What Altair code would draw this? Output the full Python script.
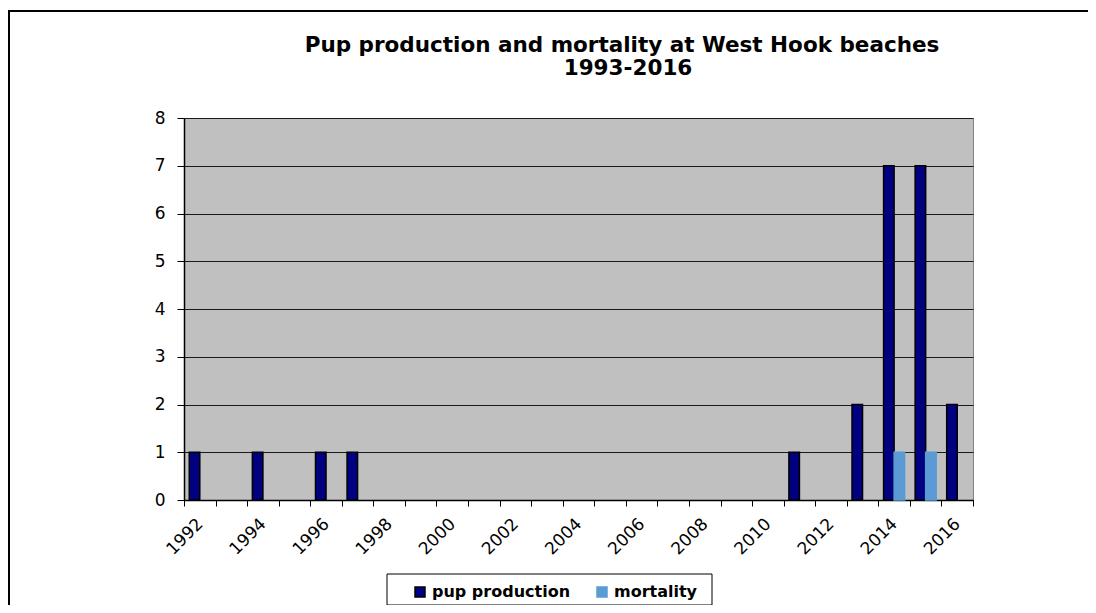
import altair as alt
import pandas as pd

years = list(range(1992, 2017))
series = ["pup production", "mortality"]
pup_years = [1992, 1994, 1996, 1997, 2011, 2013, 2014, 2015, 2016]
pup_values = [1, 1, 1, 1, 1, 2, 7, 7, 2]
mort_years = [2014, 2015]
mort_values = [1, 1]
y_ticks = [0, 1, 2, 3, 4, 5, 6, 7, 8]
title_line1 = "Pup production and mortality at West Hook beaches"
title_line2 = "1993-2016"

rows = []
for yr, v in zip(pup_years, pup_values):
    rows.append({"year": yr, "series": series[0], "value": v})
for yr, v in zip(mort_years, mort_values):
    rows.append({"year": yr, "series": series[1], "value": v})
df = pd.DataFrame(rows)

PW, PH = 789, 382
L, T = 176, 110
TW, TH = 1080, 597

legend_kw = dict(
    title=None, orient="none", legendX=228, legendY=466, direction="horizontal",
    padding=0, columnPadding=23, labelOffset=4,
    symbolType="square", symbolSize=100, symbolStrokeWidth=1.5,
    labelFont="DejaVu Sans", labelFontSize=16, labelFontWeight="bold",
    labelColor="black",
)

bars = alt.Chart(df).mark_bar(strokeWidth=1.5).encode(
    x=alt.X("year:O",
            scale=alt.Scale(domain=years, paddingInner=0, paddingOuter=0),
            axis=alt.Axis(title=None, labelAngle=-45, labelAlign="right", labelBaseline="middle",
                          labelExpr="datum.value % 2 == 0 ? datum.label : ''",
                          tickBand="extent", tickSize=6, tickColor="black", tickWidth=1,
                          domainColor="black", domainWidth=1.5, labelPadding=15,
                          labelFont="DejaVu Sans", labelFontSize=17, labelColor="black")),
    xOffset=alt.XOffset("series:N", scale=alt.Scale(domain=series, paddingInner=0, paddingOuter=0.5)),
    y=alt.Y("value:Q",
            scale=alt.Scale(domain=[0, 8]),
            axis=alt.Axis(title=None, values=y_ticks, grid=True, gridColor="#1a1a1a", gridWidth=1,
                          tickSize=7, tickColor="black", domainColor="black", domainWidth=1.5,
                          labelPadding=12, labelFont="DejaVu Sans", labelFontSize=17,
                          labelColor="black")),
    color=alt.Color("series:N", scale=alt.Scale(domain=series, range=["#000080", "#5b9bd5"]),
                    legend=alt.Legend(**legend_kw)),
    stroke=alt.Stroke("series:N", scale=alt.Scale(domain=series, range=["#000000", "#5b9bd5"]),
                      legend=alt.Legend(**legend_kw)),
)

one = alt.Data(values=[{"k": 1}])
frame = alt.Chart(one).mark_rule(color="black", strokeWidth=2)
top_line = frame.encode(x=alt.value(-L), x2=alt.value(TW - L), y=alt.value(-T + 3))
left_line = frame.encode(x=alt.value(-L + 1), y=alt.value(-T + 2), y2=alt.value(TH - T))

legend_box = alt.Chart(one).mark_rect(fill="white", stroke="black", strokeWidth=1).encode(
    x=alt.value(203), x2=alt.value(528), y=alt.value(456), y2=alt.value(487)
)

title_font = dict(font="DejaVu Sans", fontSize=21.5, fontWeight="bold", color="black",
                  align="center", baseline="middle")
t1 = alt.Chart(one).mark_text(**title_font).encode(
    x=alt.value(438), y=alt.value(-72), text=alt.value(title_line1))
t2 = alt.Chart(one).mark_text(**title_font).encode(
    x=alt.value(444), y=alt.value(-49), text=alt.value(title_line2))

chart = alt.layer(legend_box, bars, top_line, left_line, t1, t2).properties(
    width=PW, height=PH,
    autosize=alt.AutoSizeParams(type="none"),
    padding={"left": L, "top": T, "right": TW - L - PW, "bottom": TH - T - PH},
    background="white",
).configure_view(
    fill="#c0c0c0", stroke="#808080", strokeWidth=1
)

chart.save("out.html", embed_options={"renderer": "svg", "actions": False})
